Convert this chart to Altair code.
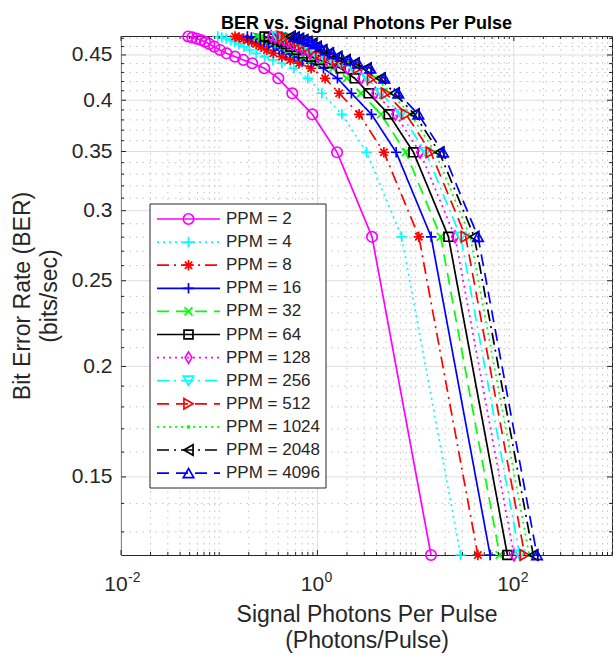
import altair as alt
import pandas as pd

# ---------------- data ----------------
chart_title = "BER vs. Signal Photons Per Pulse"
ppm_labels = ["PPM = 2", "PPM = 4", "PPM = 8", "PPM = 16", "PPM = 32", "PPM = 64",
              "PPM = 128", "PPM = 256", "PPM = 512", "PPM = 1024", "PPM = 2048", "PPM = 4096"]

# bit error rate levels (shared by every curve)
ber = [0.4722, 0.4710, 0.4696, 0.4679, 0.4658, 0.4631, 0.4598, 0.4559, 0.4520, 0.4480,
       0.4442, 0.4404, 0.4347, 0.4235, 0.4073, 0.3856, 0.3493, 0.2803, 0.1224]

photons_ppm2 = [0.0484, 0.0532, 0.059, 0.0653, 0.0717, 0.0793, 0.0891, 0.102, 0.119, 0.145,
                0.176, 0.217, 0.288, 0.400, 0.555, 0.888, 1.585, 3.60, 14.35]
photons_ppm4 = [0.0968, 0.1064, 0.118, 0.1306, 0.1434, 0.1586, 0.1782, 0.204, 0.238, 0.290,
                0.352, 0.434, 0.576, 0.800, 1.110, 1.776, 3.170, 7.20, 28.7]
photons_ppm8 = [0.1452, 0.1596, 0.177, 0.1959, 0.2151, 0.2379, 0.2673, 0.306, 0.357, 0.435,
                0.528, 0.651, 0.864, 1.200, 1.665, 2.664, 4.755, 10.8, 43.05]
photons_ppm16 = [0.1936, 0.2128, 0.236, 0.2612, 0.2868, 0.3172, 0.3564, 0.408, 0.476, 0.580,
                 0.704, 0.868, 1.152, 1.600, 2.220, 3.552, 6.340, 14.4, 57.4]
photons_ppm32 = [0.242, 0.266, 0.295, 0.3265, 0.3585, 0.3965, 0.4455, 0.510, 0.595, 0.725,
                 0.880, 1.085, 1.440, 2.000, 2.775, 4.440, 7.925, 18.0, 71.75]
photons_ppm64 = [0.2904, 0.3192, 0.354, 0.3918, 0.4302, 0.4758, 0.5346, 0.612, 0.714, 0.870,
                 1.056, 1.302, 1.728, 2.400, 3.330, 5.328, 9.510, 21.6, 86.1]
photons_ppm128 = [0.3388, 0.3724, 0.413, 0.4571, 0.5019, 0.5551, 0.6237, 0.714, 0.833, 1.015,
                  1.232, 1.519, 2.016, 2.800, 3.885, 6.216, 11.095, 25.2, 100.45]
photons_ppm256 = [0.3872, 0.4256, 0.472, 0.5224, 0.5736, 0.6344, 0.7128, 0.816, 0.952, 1.160,
                  1.408, 1.736, 2.304, 3.200, 4.440, 7.104, 12.68, 28.8, 114.8]
photons_ppm512 = [0.4356, 0.4788, 0.531, 0.5877, 0.6453, 0.7137, 0.8019, 0.918, 1.071, 1.305,
                  1.584, 1.953, 2.592, 3.600, 4.995, 7.992, 14.265, 32.4, 129.15]
photons_ppm1024 = [0.484, 0.532, 0.590, 0.653, 0.717, 0.793, 0.891, 1.020, 1.190, 1.450,
                   1.760, 2.170, 2.880, 4.000, 5.550, 8.880, 15.85, 36.0, 143.5]
photons_ppm2048 = [0.5324, 0.5852, 0.649, 0.7183, 0.7887, 0.8723, 0.9801, 1.122, 1.309, 1.595,
                   1.936, 2.387, 3.168, 4.400, 6.105, 9.768, 17.435, 39.6, 157.85]
photons_ppm4096 = [0.5808, 0.6384, 0.708, 0.7836, 0.8604, 0.9516, 1.0692, 1.224, 1.428, 1.740,
                   2.112, 2.604, 3.456, 4.800, 6.660, 10.656, 19.02, 43.2, 172.2]

photon_series = [photons_ppm2, photons_ppm4, photons_ppm8, photons_ppm16, photons_ppm32,
                 photons_ppm64, photons_ppm128, photons_ppm256, photons_ppm512,
                 photons_ppm1024, photons_ppm2048, photons_ppm4096]

# axis ticks
x_major_ticks = [0.01, 1, 100]
x_major_exp = ["-2", "0", "2"]
x_minor_ticks = [k * 10.0 ** d for d in range(-2, 3) for k in range(2, 10)] + [0.1, 10, 1000]
y_major_ticks = [0.15, 0.2, 0.25, 0.3, 0.35, 0.4, 0.45]
y_minor_ticks = [0.13, 0.14, 0.16, 0.17, 0.18, 0.19, 0.21, 0.22, 0.23, 0.24, 0.26, 0.27,
                 0.28, 0.29, 0.31, 0.32, 0.33, 0.34, 0.36, 0.37, 0.38, 0.39, 0.41, 0.42,
                 0.43, 0.44, 0.46, 0.47]
x_limits = [0.01, 1000]
y_limits = [0.1224, 0.4728]

# ---------------- styles ----------------
MAG, CYA, RED, BLU, GRN, BLK = "#FF00FF", "#00FFFF", "#FF0000", "#0000FF", "#00FF00", "#000000"
colors = [MAG, CYA, RED, BLU, GRN, BLK, MAG, CYA, RED, GRN, BLK, BLU]
SOLID, DOT, DASHDOT, DASH = [1, 0], [2, 4], [12, 5, 2, 5], [12, 7]
dashes = [SOLID, DOT, DASHDOT, SOLID, DASH, SOLID, DOT, DASHDOT, DASH, DOT, DASHDOT, DASH]
PLUS = "M-1,0L1,0M0,-1L0,1"
STAR = "M-1,0L1,0M0,-1L0,1M-0.7,-0.7L0.7,0.7M-0.7,0.7L0.7,-0.7"
XMARK = "M-0.75,-0.75L0.75,0.75M-0.75,0.75L0.75,-0.75"
DIAM = "M0,-1.1L0.65,0L0,1.1L-0.65,0Z"
SQUARE = "M-0.85,-0.85L0.85,-0.85L0.85,0.85L-0.85,0.85Z"
shapes = ["circle", PLUS, STAR, PLUS, XMARK, SQUARE, DIAM, "triangle-down",
          "triangle-right", "dot", "triangle-left", "triangle-up"]

FONT = "Liberation Sans"
AX = "#262626"
W, H = 491, 519
LW = 1.7
MSIZE = 110

xscale = alt.Scale(type="log", domain=x_limits, nice=False)
yscale = alt.Scale(type="log", domain=y_limits, nice=False, zero=False)
xaxis = alt.Axis(labels=False, ticks=False, domain=False, grid=False,
                 title=["Signal Photons Per Pulse", "(Photons/Pulse)"],
                 titleFontSize=23, titleFontWeight="normal", titleColor=AX, titleFont=FONT,
                 titleX=245.5, titleY=59, titleBaseline="middle", titleLineHeight=26)
yaxis = alt.Axis(values=y_major_ticks, format="~g", labelFontSize=21, labelFont=FONT,
                 labelColor=AX, labelPadding=9, ticks=False, domain=False, grid=False,
                 labelOverlap=False,
                 title=["Bit Error Rate (BER)", "(bits/sec)"], titleFontSize=23,
                 titleFontWeight="normal", titleColor=AX, titleFont=FONT,
                 titleX=-99, titleY=259.5, titleBaseline="middle", titleLineHeight=27)


def xenc(field):
    return alt.X(field, type="quantitative", scale=xscale, axis=xaxis)


def yenc(field):
    return alt.Y(field, type="quantitative", scale=yscale, axis=yaxis)


xminor_df = pd.DataFrame({"v": x_minor_ticks})
xmajor_df = pd.DataFrame({"v": x_major_ticks, "e": x_major_exp})
yminor_df = pd.DataFrame({"v": y_minor_ticks})
ymajor_df = pd.DataFrame({"v": y_major_ticks})
one_row = pd.DataFrame({"k": [0]})

layers = []
# grid
layers.append(alt.Chart(xminor_df).mark_rule(color="#c4c4c4", strokeWidth=1, strokeDash=[1.5, 5])
              .encode(x=xenc("v")))
layers.append(alt.Chart(yminor_df).mark_rule(color="#c4c4c4", strokeWidth=1, strokeDash=[1.5, 5])
              .encode(y=yenc("v")))
layers.append(alt.Chart(xmajor_df).mark_rule(color="#dedede", strokeWidth=1).encode(x=xenc("v")))
layers.append(alt.Chart(ymajor_df).mark_rule(color="#dedede", strokeWidth=1).encode(y=yenc("v")))

# data series
for lab, xs, col, dash, shp in zip(ppm_labels, photon_series, colors, dashes, shapes):
    df = pd.DataFrame({"photons": xs, "ber": ber})
    base = alt.Chart(df)
    layers.append(base.mark_line(color=col, strokeWidth=LW, strokeDash=dash)
                  .encode(x=xenc("photons"), y=yenc("ber")))
    if shp == "dot":
        pts = base.mark_point(color=col, filled=True, opacity=1, shape="circle", size=14)
    else:
        pts = base.mark_point(color=col, filled=False, opacity=1, shape=shp, size=MSIZE,
                              strokeWidth=LW)
    layers.append(pts.encode(x=xenc("photons"), y=yenc("ber")))

# inward ticks (box on)
TMAJ, TMIN = 5, 3
layers.append(alt.Chart(xmajor_df).mark_rule(color=AX, strokeWidth=1)
              .encode(x=xenc("v"), y=alt.value(H), y2=alt.value(H - TMAJ)))
layers.append(alt.Chart(xmajor_df).mark_rule(color=AX, strokeWidth=1)
              .encode(x=xenc("v"), y=alt.value(0), y2=alt.value(TMAJ)))
layers.append(alt.Chart(xminor_df).mark_rule(color=AX, strokeWidth=1)
              .encode(x=xenc("v"), y=alt.value(H), y2=alt.value(H - TMIN)))
layers.append(alt.Chart(xminor_df).mark_rule(color=AX, strokeWidth=1)
              .encode(x=xenc("v"), y=alt.value(0), y2=alt.value(TMIN)))
layers.append(alt.Chart(ymajor_df).mark_rule(color=AX, strokeWidth=1)
              .encode(y=yenc("v"), x=alt.value(0), x2=alt.value(TMAJ)))
layers.append(alt.Chart(ymajor_df).mark_rule(color=AX, strokeWidth=1)
              .encode(y=yenc("v"), x=alt.value(W), x2=alt.value(W - TMAJ)))
layers.append(alt.Chart(yminor_df).mark_rule(color=AX, strokeWidth=1)
              .encode(y=yenc("v"), x=alt.value(0), x2=alt.value(TMIN)))
layers.append(alt.Chart(yminor_df).mark_rule(color=AX, strokeWidth=1)
              .encode(y=yenc("v"), x=alt.value(W), x2=alt.value(W - TMIN)))

# x tick labels 10^n
layers.append(alt.Chart(xmajor_df).mark_text(text="10", fontSize=21, font=FONT, color=AX,
                                             align="center", baseline="alphabetic", dx=-5)
              .encode(x=xenc("v"), y=alt.value(H + 36)))
layers.append(alt.Chart(xmajor_df).mark_text(fontSize=14, font=FONT, color=AX,
                                             align="left", baseline="alphabetic", dx=7)
              .encode(x=xenc("v"), y=alt.value(H + 27), text="e:N"))

# chart title (drawn as text above the plot frame)
layers.append(alt.Chart(one_row).mark_text(text=chart_title, fontSize=18, fontWeight="bold",
                                           font=FONT, color="black", align="center",
                                           baseline="alphabetic")
              .encode(x=alt.value(W / 2), y=alt.value(-7)))

# legend
LX0, LX1, LY0, LY1 = 29, 205, 168, 452
layers.append(alt.Chart(one_row).mark_rect(fill="white", stroke=AX, strokeWidth=1)
              .encode(x=alt.value(LX0), x2=alt.value(LX1), y=alt.value(LY0), y2=alt.value(LY1)))
for i, (lab, col, dash, shp) in enumerate(zip(ppm_labels, colors, dashes, shapes)):
    yy = 183 + 23.1 * i
    layers.append(alt.Chart(one_row).mark_rule(color=col, strokeWidth=LW, strokeDash=dash)
                  .encode(x=alt.value(36), x2=alt.value(99), y=alt.value(yy)))
    if shp == "dot":
        lp = alt.Chart(one_row).mark_point(color=col, filled=True, opacity=1, shape="circle", size=14)
    else:
        lp = alt.Chart(one_row).mark_point(color=col, filled=False, opacity=1, shape=shp,
                                           size=MSIZE, strokeWidth=LW)
    layers.append(lp.encode(x=alt.value(67.5), y=alt.value(yy)))
    layers.append(alt.Chart(one_row).mark_text(text=lab, fontSize=17, font=FONT, color=AX,
                                               align="left", baseline="middle")
                  .encode(x=alt.value(105), y=alt.value(yy)))

chart = alt.layer(*layers).properties(
    width=W, height=H,
    autosize=alt.AutoSizeParams(type="none"),
    padding={"left": 121, "top": 36, "right": 3, "bottom": 104},
).configure_view(stroke=AX, strokeWidth=1)

chart.save("out.html", embed_options={"renderer": "svg", "actions": False})
